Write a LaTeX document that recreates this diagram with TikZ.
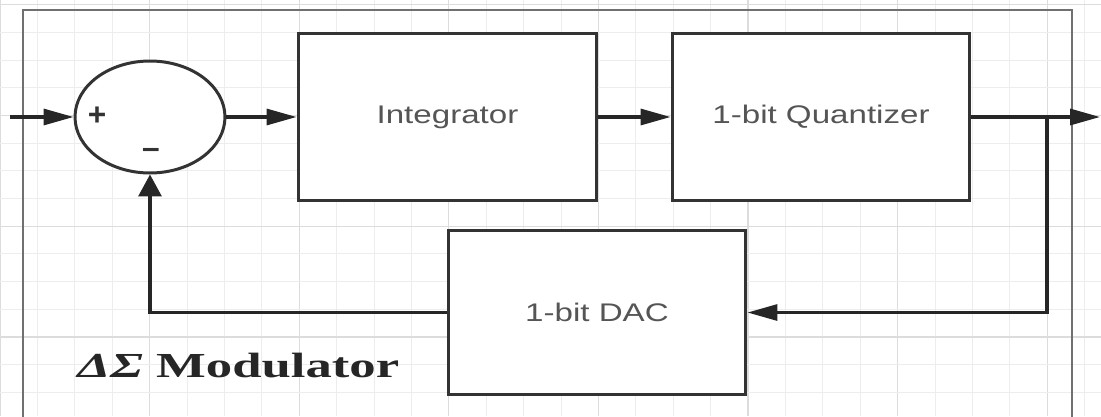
\documentclass[tikz,border=0pt]{standalone}
\usepackage{fontspec}
\setmainfont{Liberation Sans}
\newfontfamily\lserif{Liberation Serif}
\usetikzlibrary{arrows.meta}
\definecolor{boxline}{HTML}{333333}
\definecolor{labelgray}{HTML}{555555}
\definecolor{framegray}{HTML}{707070}
\definecolor{gridminor}{HTML}{EDEDED}
\definecolor{gridmajor}{HTML}{DCDCDC}
\tikzset{
  blockbox/.style={draw=boxline, line width=1.7pt, fill=white, text=labelgray,
    font=\fontsize{14.5}{16}\selectfont, inner sep=0pt},
  sumnode/.style={draw=boxline, line width=1.7pt, fill=white, ellipse},
  wire/.style={draw=black!85, line width=1.8pt},
  harrow/.style={wire, -{Triangle[length=0.6cm,width=0.32cm]}},
  varrow/.style={wire, -{Triangle[length=0.44cm,width=0.46cm]}},
  signlabel/.style={inner sep=0pt, font=\bfseries\fontsize{18}{18}\selectfont, text=boxline},
}
\usetikzlibrary{shapes.geometric}
\begin{document}
\begin{tikzpicture}[x=0.02cm, y=-0.02cm]
\useasboundingbox (0,0) rectangle (1101,416);
\fill[white] (0,0) rectangle (1101,416);
% grid
\foreach \i in {0,...,29} {
  \pgfmathtruncatemacro{\m}{mod(\i,4)}
  \ifnum\m=0
    \draw[gridmajor, line width=0.6pt] (\i*37.4,0) -- (\i*37.4,416);
  \else
    \draw[gridminor, line width=0.5pt] (\i*37.4,0) -- (\i*37.4,416);
  \fi
}
\foreach \j in {0,...,15} {
  \pgfmathtruncatemacro{\m}{mod(\j,4)}
  \ifnum\m=0
    \draw[gridmajor, line width=0.6pt] (0,4.6+\j*27.7) -- (1101,4.6+\j*27.7);
  \else
    \draw[gridminor, line width=0.5pt] (0,4.6+\j*27.7) -- (1101,4.6+\j*27.7);
  \fi
}
% outer frame (bottom edge lies below the picture)
\draw[framegray, line width=1.6pt] (23,420) -- (23,10) -- (1072,10) -- (1072,420);

% blocks
\node[sumnode, minimum width=3cm, minimum height=2.24cm] (sum) at (150,117) {};
\node[blockbox, minimum width=5.98cm, minimum height=3.36cm] (int) at (447.5,117) {\scalebox{1.3}[1]{Integrator}};
\node[blockbox, minimum width=5.96cm, minimum height=3.36cm] (quant) at (821,117) {\scalebox{1.3}[1]{1-bit Quantizer}};
\node[blockbox, minimum width=5.96cm, minimum height=3.3cm] (dac) at (597,312.5) {\scalebox{1.3}[1]{1-bit DAC}};

\node[signlabel] (plus) at (97,116) {+};
\node[signlabel] (minus) at (151,153) {–};

\node[anchor=base west, inner sep=0pt, text=black!85] (title) at (77,377)
  {\scalebox{1.5}[1]{\lserif\bfseries\fontsize{20}{21}\selectfont{\itshape ΔΣ} Modulator}};

% connectors
\coordinate (inp) at (10,117);
\coordinate (outp) at (1100,117);
\coordinate (branch) at (1047,117);
\draw[harrow] (inp) -- (sum.west);
\draw[harrow] (sum.east) -- (int.west);
\draw[harrow] (int.east) -- (quant.west);
\draw[harrow] (quant.east) -- (outp);
\draw[harrow] (branch) |- (dac.east);
\draw[varrow] (dac.west) -| (sum.south);
\end{tikzpicture}
\end{document}
